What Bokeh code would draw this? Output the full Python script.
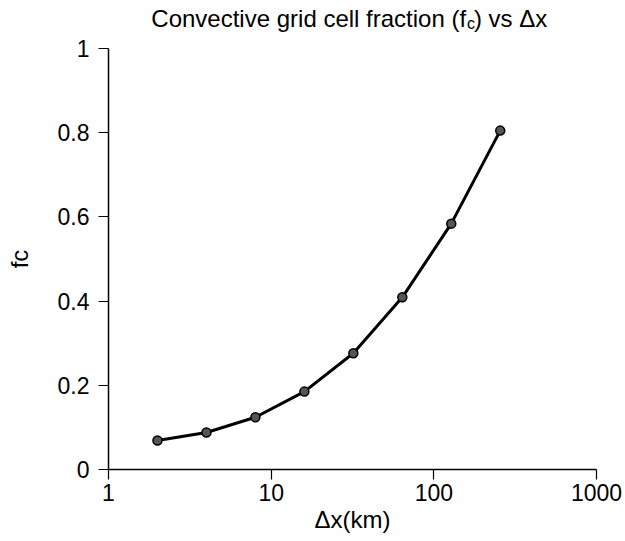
from bokeh.plotting import figure
from bokeh.layouts import column
from bokeh.models import Range1d, FixedTicker, Label, ColumnDataSource
from bokeh.embed import file_html
from bokeh.resources import INLINE

# ---- data ----
dx_km = [2, 4, 8, 16, 32, 64, 128, 256]
fc = [0.069, 0.088, 0.124, 0.185, 0.276, 0.409, 0.584, 0.805]
x_ticks = [1, 10, 100, 1000]
x_tick_labels = ["1", "10", "100", "1000"]
y_ticks = [0, 0.2, 0.4, 0.6, 0.8, 1]
y_tick_labels = ["0", "0.2", "0.4", "0.6", "0.8", "1"]
title_main = "Convective grid cell fraction (f"
title_sub = "c"
title_mid = ") vs"
title_end = "\u0394x"
x_label = "\u0394x(km)"
y_label = "fc"

FONT = "Liberation Sans"

# ---- title strip (pixel coordinates) ----
TW, TH = 625, 34
t = figure(width=TW, height=TH, x_range=Range1d(0, TW), y_range=Range1d(0, TH),
           x_axis_location=None, y_axis_location=None,
           output_backend="svg", toolbar_location=None,
           min_border=0)
t.outline_line_color = None
t.xgrid.visible = False
t.ygrid.visible = False
t.background_fill_color = "white"
t.border_fill_color = "white"


def title_label(x, y, text, size, align="left"):
    return Label(x=x, y=y, text=text, text_align=align,
                 text_baseline="alphabetic", text_font=FONT,
                 text_font_size=size, text_color="black")


t.add_layout(title_label(458, 16, title_main, "24px", "right"))
t.add_layout(title_label(459, 11, title_sub, "16px"))
t.add_layout(title_label(468, 16, title_mid, "24px"))
t.add_layout(title_label(526, 16, title_end, "24px"))

# ---- main plot ----
p = figure(width=625, height=507, x_axis_type="log",
           x_range=Range1d(1, 1000), y_range=Range1d(0, 1),
           output_backend="svg", toolbar_location=None,
           min_border_left=108, min_border_right=29,
           min_border_top=14, min_border_bottom=72)
p.outline_line_color = None
p.xgrid.visible = False
p.ygrid.visible = False
p.background_fill_color = "white"
p.border_fill_color = "white"

src = ColumnDataSource(dict(x=dx_km, y=fc))
p.line("x", "y", source=src, line_color="black", line_width=3)
p.scatter("x", "y", source=src, size=9, fill_color="#555555",
          line_color="black", line_width=1.5)

for ax, ticks, labels, standoff in (
        (p.xaxis[0], x_ticks, x_tick_labels, 4),
        (p.yaxis[0], y_ticks, y_tick_labels, 9)):
    ax.ticker = FixedTicker(ticks=ticks, minor_ticks=[])
    ax.major_label_overrides = {tk: lb for tk, lb in zip(ticks, labels)}
    ax.major_tick_out = 10
    ax.major_tick_in = 0
    ax.minor_tick_out = 0
    ax.minor_tick_in = 0
    ax.axis_line_width = 1.5
    ax.axis_line_color = "black"
    ax.major_tick_line_color = "black"
    ax.major_tick_line_width = 1.2
    ax.major_label_text_font = FONT
    ax.major_label_text_font_size = "23px"
    ax.major_label_text_color = "black"
    ax.major_label_standoff = standoff
    ax.axis_label_text_font = FONT
    ax.axis_label_text_font_size = "24px"
    ax.axis_label_text_font_style = "normal"
    ax.axis_label_text_color = "black"

p.xaxis.axis_label = x_label
p.xaxis.axis_label_standoff = 2
p.yaxis.axis_label = y_label
p.yaxis.axis_label_standoff = 22

layout = column(t, p, spacing=0)
open("out.html", "w").write(file_html(layout, INLINE))
